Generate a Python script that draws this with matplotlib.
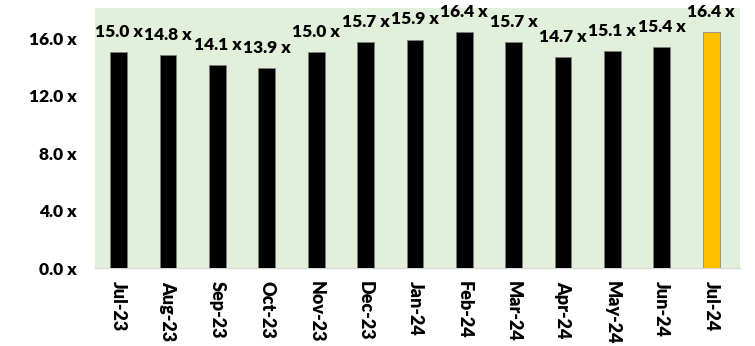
import matplotlib
matplotlib.use("Agg")
import matplotlib.pyplot as plt

categories = ["Jul-23", "Aug-23", "Sep-23", "Oct-23", "Nov-23", "Dec-23", "Jan-24",
              "Feb-24", "Mar-24", "Apr-24", "May-24", "Jun-24", "Jul-24"]
values = [15.0, 14.8, 14.1, 13.9, 15.0, 15.7, 15.9, 16.4, 15.7, 14.7, 15.1, 15.4, 16.4]
yticks = [0, 4, 8, 12, 16]

plt.rcParams['font.family'] = ['Lato', 'DejaVu Sans']

fig = plt.figure(figsize=(7.55, 3.46), dpi=100)
ax = fig.add_axes([0.1258, 0.2254, 0.854, 0.7516])
ax.set_facecolor('#E2EFDA')

colors = ['#000000'] * (len(values) - 1) + ['#FFC000']
x = list(range(len(categories)))
ax.bar(x, values, width=0.34, color=colors, edgecolor='#7F7F7F', linewidth=0.5, zorder=3)

fs = 12.5
for xi, v in zip(x, values):
    ax.annotate(f"{v:.1f} x", (xi, v), xytext=(0, 14.5), textcoords='offset points',
                ha='center', va='center', fontsize=fs, fontweight='heavy', color='#000000')

ax.set_xlim(-0.48, len(categories) - 0.42)
ax.set_ylim(0, 18.1)
ax.set_yticks(yticks)
ax.set_yticklabels([f"{t:.1f} x" for t in yticks], fontsize=fs, fontweight='heavy')
ax.set_xticks(x)
ax.set_xticklabels(categories, rotation=270, fontsize=13, fontweight='heavy', va='top', ha='center')
ax.tick_params(axis='y', length=0, pad=13)
ax.tick_params(axis='x', length=0, pad=9)

for s in ['top', 'right', 'left']:
    ax.spines[s].set_visible(False)
ax.spines['bottom'].set_color('#D9D9D9')
ax.spines['bottom'].set_linewidth(1)

fig.savefig('out.png', dpi=100)
